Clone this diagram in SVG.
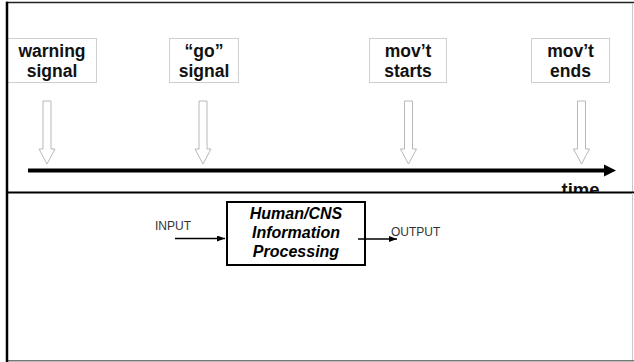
<svg xmlns="http://www.w3.org/2000/svg" width="634" height="362" viewBox="0 0 634 362">
  <style>
    .lbl { font-family: "Liberation Sans", Arial, sans-serif; font-weight: bold; font-size: 17.5px; fill: #111; text-anchor: middle; }
    .box { fill: none; stroke: #cfcfcf; stroke-width: 1; }
    .hollow { fill: #fff; stroke: #b8b8b8; stroke-width: 1; }
    .proc { font-family: "Liberation Sans", Arial, sans-serif; font-weight: bold; font-style: italic; font-size: 16px; fill: #000; text-anchor: middle; }
    .io { font-family: "Liberation Sans", Arial, sans-serif; font-size: 12px; fill: #333; }
    .wire { stroke: #000; stroke-width: 1.5; fill: none; marker-end: url(#head); }
  </style>
  <defs>
    <marker id="head" viewBox="0 0 8 6" refX="8" refY="3" markerWidth="8" markerHeight="6" markerUnits="userSpaceOnUse" orient="auto">
      <path d="M0,0 L8,3 L0,6 Z" fill="#000"/>
    </marker>
    <path id="downArrow" d="M-4,0 H4 V48 H8 L0,63 L-8,48 H-4 Z"/>
  </defs>

  <rect width="634" height="362" fill="#fff"/>

  <!-- upper panel: event timeline -->
  <g id="timeline-panel">
    <line x1="6" y1="2.5" x2="634" y2="2.5" stroke="#222" stroke-width="1.5"/>
    <line x1="632.5" y1="3" x2="632.5" y2="192" stroke="#c8c8c8" stroke-width="1"/>
  </g>

  <g id="warning-signal">
    <rect class="box" x="7.5" y="38.5" width="89" height="44"/>
    <text class="lbl" x="52" y="57">warning</text>
    <text class="lbl" x="52" y="77">signal</text>
  </g>
  <g id="go-signal">
    <rect class="box" x="169.5" y="38.5" width="69" height="44"/>
    <text class="lbl" x="204" y="57">“go”</text>
    <text class="lbl" x="204" y="77">signal</text>
  </g>
  <g id="movement-starts">
    <rect class="box" x="369.5" y="38.5" width="77" height="44"/>
    <text class="lbl" x="408" y="57">mov’t</text>
    <text class="lbl" x="408" y="77">starts</text>
  </g>
  <g id="movement-ends">
    <rect class="box" x="531.5" y="38.5" width="78" height="44"/>
    <text class="lbl" x="570.5" y="57">mov’t</text>
    <text class="lbl" x="570.5" y="77">ends</text>
  </g>

  <g id="time-axis">
    <line x1="28" y1="170.5" x2="605" y2="170.5" stroke="#000" stroke-width="4"/>
    <polygon points="604,164.5 616,170.5 604,176.5" fill="#000"/>
    <text class="lbl" x="580.5" y="195.5" style="font-size:18.5px">time</text>
  </g>

  <!-- hollow markers pointing at the axis -->
  <g id="event-pointers">
    <use href="#downArrow" class="hollow" transform="translate(47,101)"/>
    <use href="#downArrow" class="hollow" transform="translate(203,101)"/>
    <use href="#downArrow" class="hollow" transform="translate(408.5,101)"/>
    <use href="#downArrow" class="hollow" transform="translate(581.5,101)"/>
  </g>

  <!-- lower panel: processing model -->
  <g id="model-panel">
    <rect x="7" y="193" width="627" height="169" fill="#fff"/>
    <line x1="7" y1="192.5" x2="634" y2="192.5" stroke="#000" stroke-width="2"/>
    <line x1="632.5" y1="193" x2="632.5" y2="361" stroke="#c8c8c8" stroke-width="1"/>
    <line x1="7" y1="360.8" x2="634" y2="360.8" stroke="#777" stroke-width="1.5"/>
  </g>

  <!-- left border over both panels -->
  <line x1="7" y1="1.8" x2="7" y2="362" stroke="#000" stroke-width="2.5"/>

  <g id="cns-processing">
    <rect x="227" y="202" width="138" height="63" fill="#fff" stroke="#000" stroke-width="2"/>
    <text class="proc" x="296" y="219">Human/CNS</text>
    <text class="proc" x="296" y="238">Information</text>
    <text class="proc" x="296" y="257">Processing</text>
  </g>

  <g id="input-label">
    <text class="io" x="155" y="230">INPUT</text>
  </g>
  <g id="output-label">
    <text class="io" x="391" y="235.5">OUTPUT</text>
  </g>

  <g id="connectors">
    <line class="wire" x1="175" y1="238.5" x2="225" y2="238.5"/>
    <line class="wire" x1="358" y1="239" x2="397" y2="239"/>
  </g>
</svg>
